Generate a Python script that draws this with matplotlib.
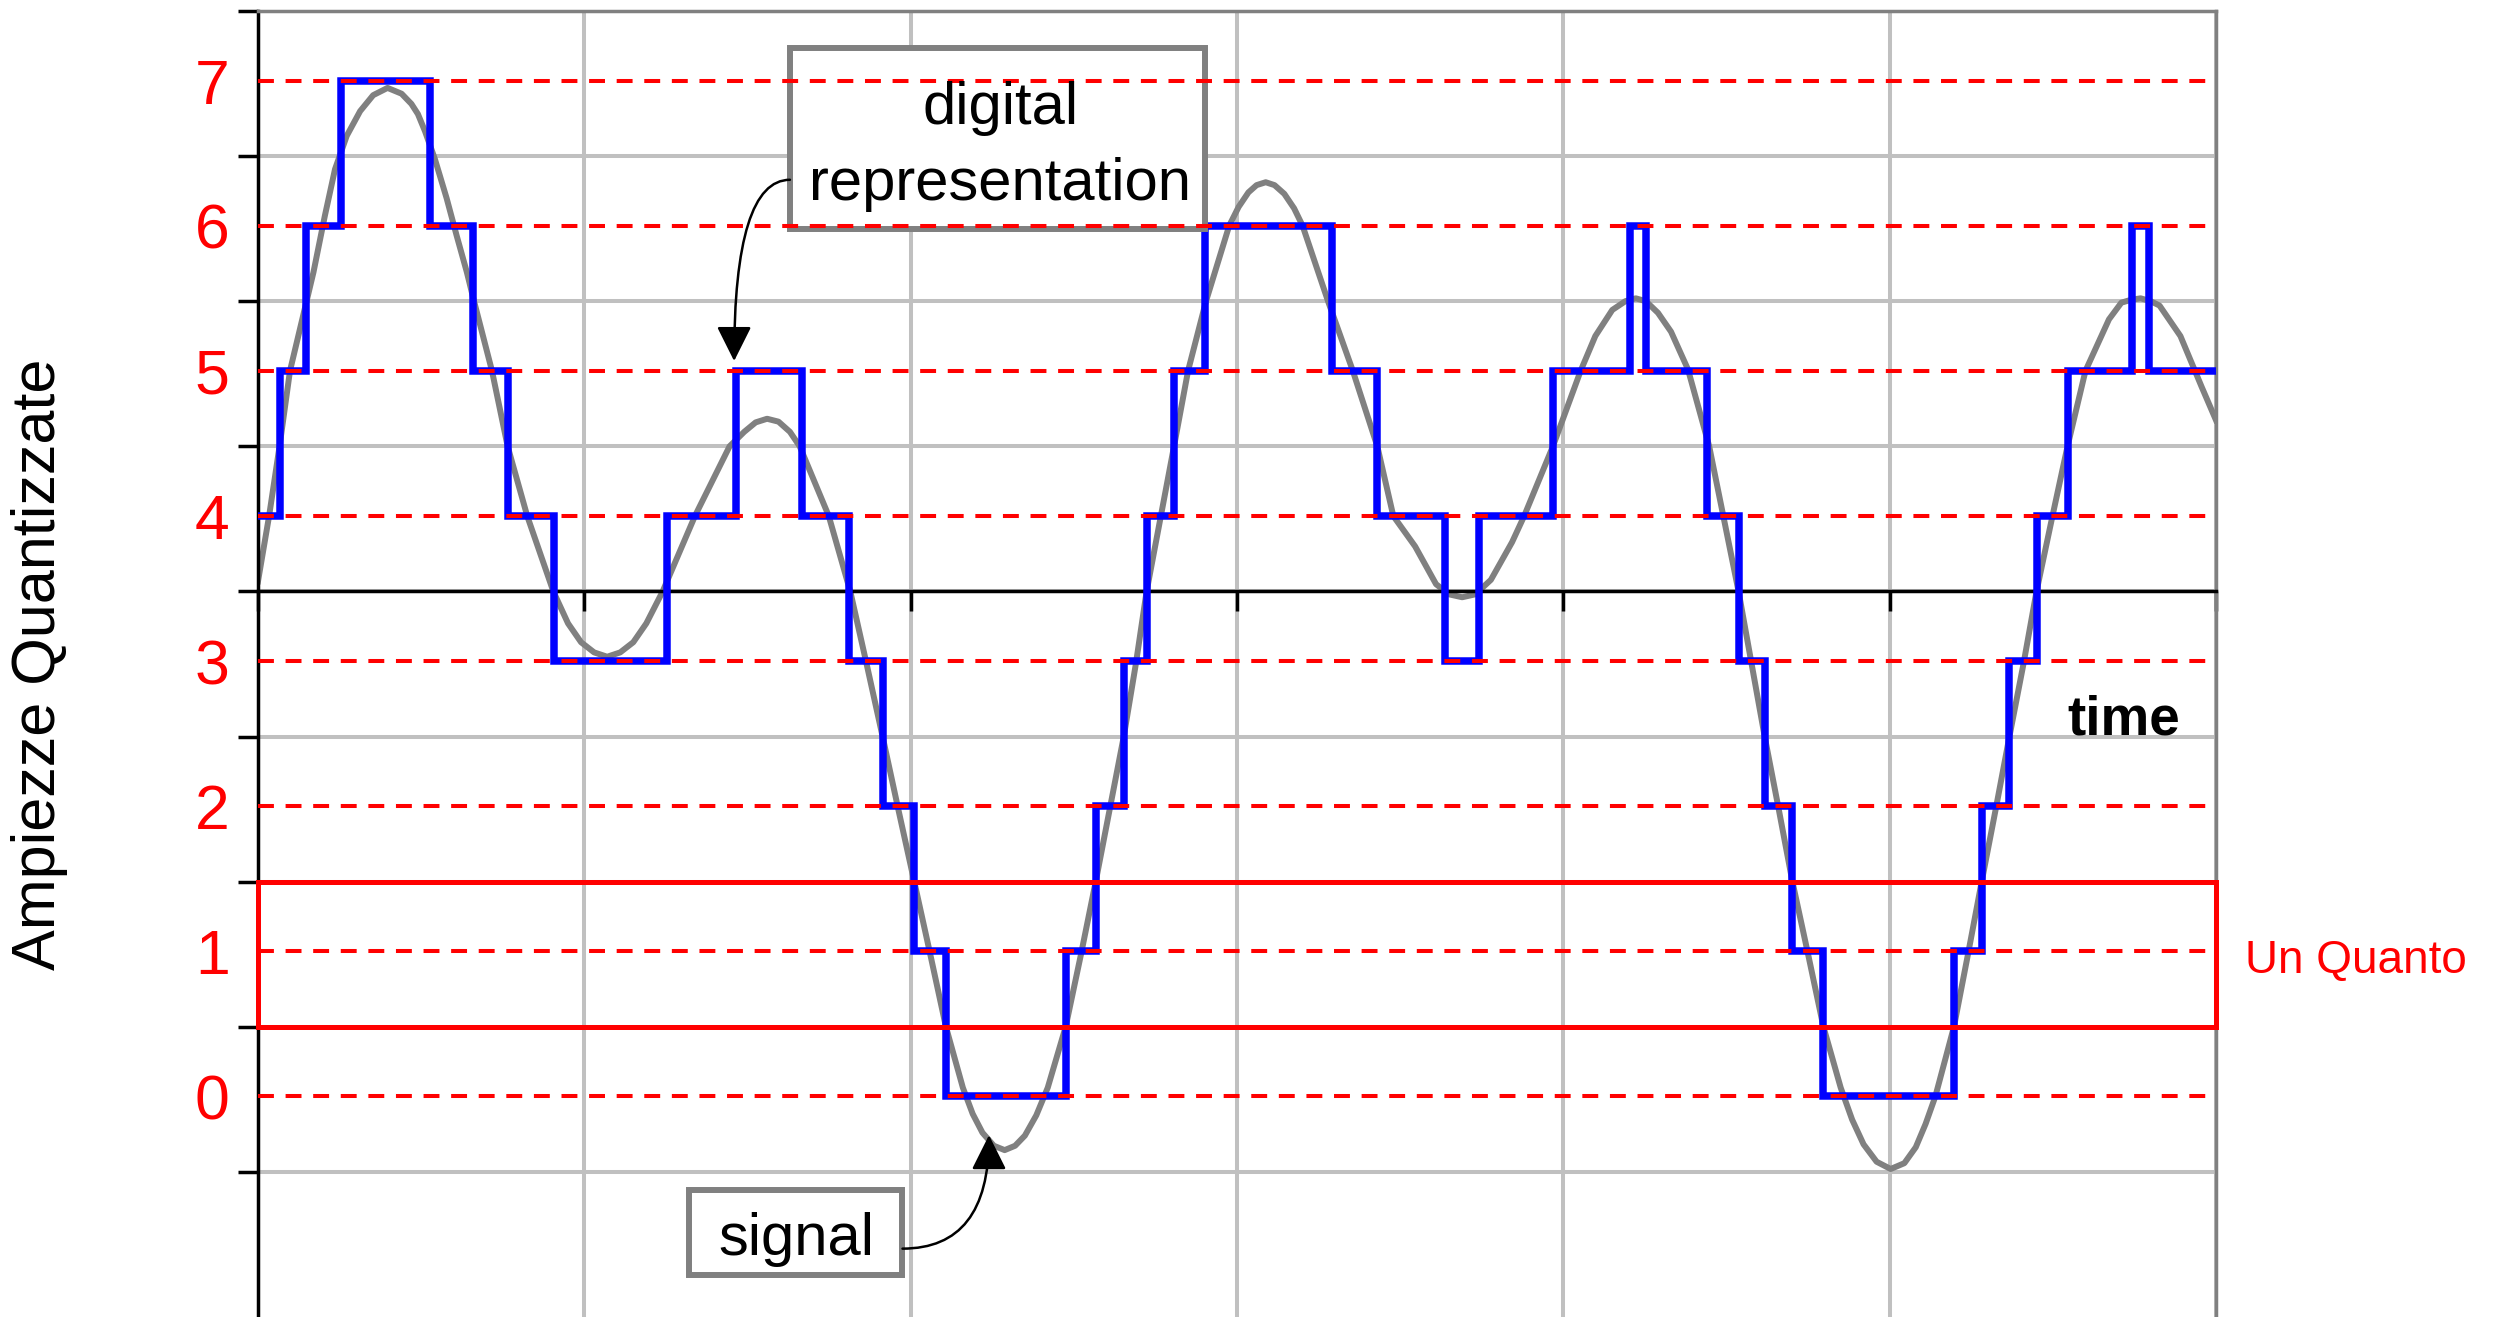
import matplotlib
matplotlib.use("Agg")
import matplotlib.pyplot as plt
from matplotlib.patches import Rectangle
import numpy as np

plt.rcParams["font.family"] = ["Liberation Sans", "DejaVu Sans"]

# quantization levels (red dashed lines, red labels on the left)
quant_levels = [0, 1, 2, 3, 4, 5, 6, 7]
quant_labels = ["0", "1", "2", "3", "4", "5", "6", "7"]

# analog signal: (time in grid units, amplitude in levels)
signal_pts = [
    (0.000, 3.55), (0.034, 4.00), (0.066, 4.48), (0.098, 5.00), (0.149, 5.48),
    (0.170, 5.68), (0.205, 6.07), (0.236, 6.39), (0.272, 6.62), (0.313, 6.79),
    (0.353, 6.90), (0.397, 6.95), (0.440, 6.91), (0.470, 6.84), (0.490, 6.77),
    (0.512, 6.65), (0.542, 6.46), (0.578, 6.19), (0.609, 5.93), (0.640, 5.68),
    (0.662, 5.48), (0.717, 5.00), (0.765, 4.48), (0.825, 4.00), (0.905, 3.48),
    (0.950, 3.26), (0.990, 3.13), (1.030, 3.06), (1.070, 3.03), (1.110, 3.06),
    (1.150, 3.13), (1.190, 3.26), (1.240, 3.48), (1.339, 4.00), (1.445, 4.48),
    (1.490, 4.58), (1.525, 4.645), (1.560, 4.67), (1.595, 4.65), (1.630, 4.58),
    (1.660, 4.48), (1.749, 4.00), (1.815, 3.48), (1.865, 2.98), (1.914, 2.48),
    (1.962, 1.98), (2.011, 1.48), (2.060, 0.98), (2.108, 0.48), (2.160, 0.06),
    (2.190, -0.12), (2.220, -0.25), (2.255, -0.34), (2.288, -0.37), (2.320, -0.34),
    (2.350, -0.27), (2.385, -0.13), (2.420, 0.06), (2.475, 0.48), (2.522, 0.98),
    (2.567, 1.48), (2.610, 1.98), (2.653, 2.48), (2.690, 2.98), (2.723, 3.48),
    (2.765, 3.98), (2.807, 4.48), (2.850, 5.00), (2.905, 5.48), (2.976, 6.00),
    (3.005, 6.13), (3.035, 6.23), (3.060, 6.28), (3.088, 6.30), (3.115, 6.28),
    (3.145, 6.22), (3.175, 6.12), (3.201, 6.00), (3.279, 5.48), (3.355, 5.00),
    (3.430, 4.48), (3.479, 4.00), (3.546, 3.79), (3.610, 3.53), (3.650, 3.46),
    (3.690, 3.44), (3.730, 3.46), (3.778, 3.56), (3.843, 3.82), (3.880, 4.00),
    (3.968, 4.48), (4.053, 5.00), (4.098, 5.24), (4.150, 5.42), (4.190, 5.48),
    (4.222, 5.50), (4.253, 5.48), (4.290, 5.40), (4.330, 5.27), (4.382, 5.01),
    (4.447, 4.48), (4.537, 3.48), (4.577, 2.98), (4.617, 2.48), (4.660, 1.98),
    (4.702, 1.48), (4.750, 0.98), (4.797, 0.48), (4.850, 0.06), (4.885, -0.16),
    (4.920, -0.33), (4.960, -0.45), (5.003, -0.50), (5.045, -0.46), (5.080, -0.35),
    (5.110, -0.19), (5.140, 0.00), (5.197, 0.48), (5.240, 0.98), (5.282, 1.48),
    (5.325, 1.98), (5.367, 2.48), (5.410, 2.98), (5.450, 3.48), (5.497, 3.98),
    (5.545, 4.48), (5.600, 5.00), (5.672, 5.355), (5.710, 5.47), (5.740, 5.49),
    (5.769, 5.50), (5.800, 5.48), (5.827, 5.45), (5.891, 5.24), (5.956, 4.89),
    (6.000, 4.66),
]
signal_t = [p[0] for p in signal_pts]
signal_v = [p[1] for p in signal_pts]

# digital representation: edges of each held sample and its level
step_edges = [0.000, 0.066, 0.148, 0.254, 0.526, 0.658, 0.765, 0.907, 1.253, 1.465,
              1.668, 1.810, 1.914, 2.011, 2.108, 2.475, 2.567, 2.653, 2.723, 2.807,
              2.901, 3.292, 3.430, 3.636, 3.742, 3.968, 4.204, 4.253, 4.440, 4.537,
              4.617, 4.702, 4.797, 5.197, 5.282, 5.367, 5.450, 5.545, 5.744, 5.796,
              6.000]
step_levels = [4, 5, 6, 7, 6, 5, 4, 3, 4, 5,
               4, 3, 2, 1, 0, 1, 2, 3, 4, 5,
               6, 5, 4, 3, 4, 5, 6, 5, 4, 3,
               2, 1, 0, 1, 2, 3, 4, 5, 6, 5]

quanto_level = 1
grid_shift = 0.48   # gray grid sits just under the half levels

fig = plt.figure(figsize=(24.98, 13.17), dpi=100)
ax = fig.add_axes([258 / 2498, 0, 1958 / 2498, 1306 / 1317])

ax.set_xlim(0, 6)
ax.set_ylim(-2 + grid_shift, 7 + grid_shift)

ax.set_xticks(range(7))
ax.set_yticks(np.arange(-1, 8) + grid_shift)
ax.set_yticks(quant_levels, quant_labels, minor=True)
ax.grid(True, which="major", color="#c0c0c0", lw=2.9)
ax.set_axisbelow(True)

ax.tick_params(axis="y", which="major", direction="out", length=14.4, width=2.5,
               color="black", labelleft=False)
ax.tick_params(axis="y", which="minor", length=0, pad=20.5, labelsize=45,
               labelcolor="#ff0000")
ax.tick_params(axis="x", which="major", direction="out", length=14.4, width=2.5,
               color="black", labelbottom=False)

ax.spines["bottom"].set_position(("data", 3 + grid_shift))
for side in ["bottom", "left"]:
    ax.spines[side].set_color("black")
    ax.spines[side].set_linewidth(2.5)
for side in ["top", "right"]:
    ax.spines[side].set_color("#808080")
    ax.spines[side].set_linewidth(2.5)

ax.set_ylabel("Ampiezze Quantizzate", fontsize=44)
ax.yaxis.set_label_coords(-0.097, 0.5)

# analog signal and its quantized version
ax.plot(signal_t, signal_v, color="#808080", lw=4.3, solid_joinstyle="round", zorder=2)
ax.stairs(step_levels, step_edges, baseline=None, color="#0000ff", lw=5.4,
          joinstyle="miter", zorder=3)

for lvl in quant_levels:
    ax.axhline(lvl, color="#ff0000", lw=2.9, dashes=(3.95, 2.9), zorder=4)

# one quantum band
ax.add_patch(Rectangle((0, quanto_level - 1 + grid_shift), 6, 1, fill=False,
                       edgecolor="#ff0000", lw=3.6, zorder=4.5, clip_on=False))
ax.text(6.089, 0.853, "Un Quanto", color="#ff0000", fontsize=33,
        ha="left", va="baseline")

# callout boxes
ax.add_patch(Rectangle((1.630, 5.979), 1.272, 1.249, facecolor="white",
                       edgecolor="#808080", lw=4.3, zorder=3.5))
ax.text(2.274, 6.703, "digital", fontsize=43, ha="center", va="baseline", zorder=5)
ax.text(2.274, 6.179, "representation", fontsize=43, ha="center", va="baseline",
        zorder=5)
ax.annotate("", xy=(1.459, 5.068), xytext=(1.630, 6.317),
            arrowprops=dict(arrowstyle="-|>", color="black", lw=1.8,
                            mutation_scale=54, shrinkA=0, shrinkB=0,
                            connectionstyle="angle3,angleA=0,angleB=90"),
            zorder=6)

ax.add_patch(Rectangle((1.321, -1.233), 0.653, 0.586, facecolor="white",
                       edgecolor="#808080", lw=4.3, zorder=3.5))
ax.text(1.649, -1.092, "signal", fontsize=43, ha="center", va="baseline", zorder=5)
ax.annotate("", xy=(2.240, -0.267), xytext=(1.975, -1.049),
            arrowprops=dict(arrowstyle="-|>", color="black", lw=1.8,
                            mutation_scale=54, shrinkA=0, shrinkB=0,
                            connectionstyle="angle3,angleA=0,angleB=90"),
            zorder=6)

ax.text(5.716, 2.494, "time", fontsize=39.5, fontweight="bold", ha="center",
        va="baseline", zorder=5)

fig.savefig("out.png", dpi=100)
